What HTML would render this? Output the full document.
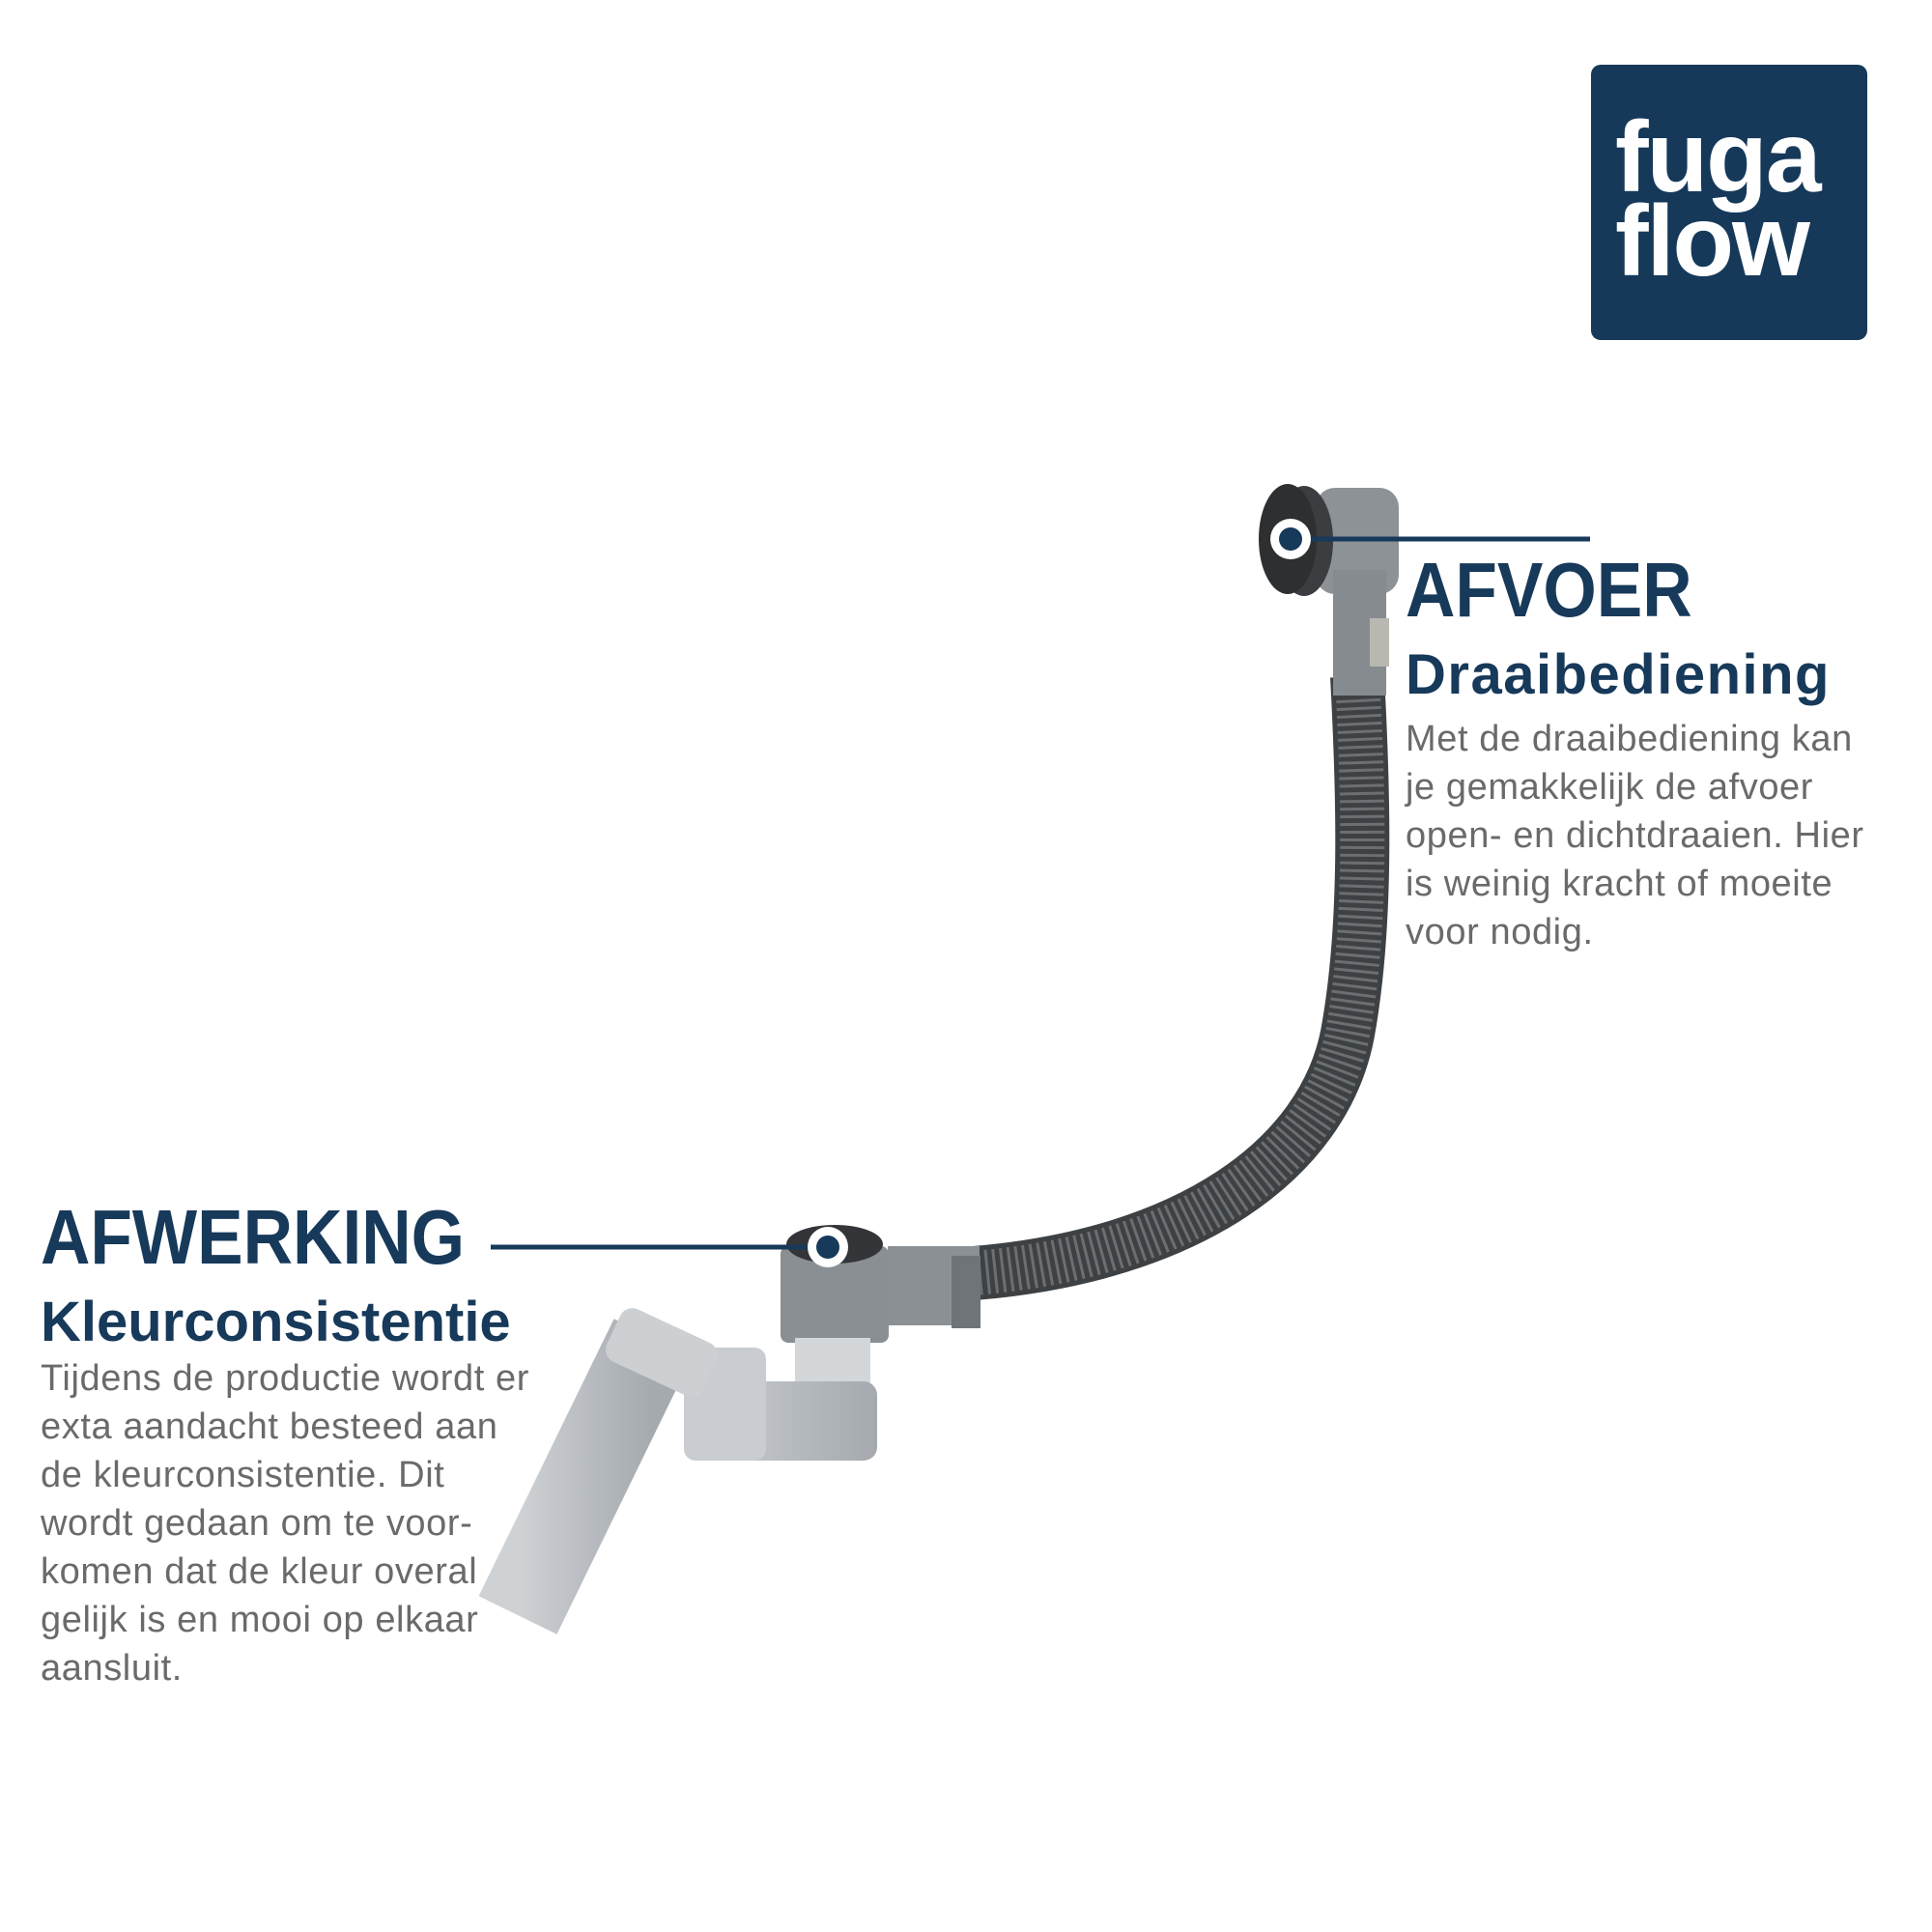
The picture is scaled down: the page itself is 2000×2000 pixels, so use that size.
<!DOCTYPE html>
<html><head><meta charset="utf-8"><style>
html,body{margin:0;padding:0;background:#fff}
body{width:2000px;height:2000px;position:relative;overflow:hidden;font-family:"Liberation Sans",sans-serif}
.t{position:absolute;white-space:nowrap}
.h1{font-weight:bold;font-size:80px;color:#17395a;transform:scaleX(0.89);transform-origin:0 0}
.h2{font-weight:bold;font-size:58px;color:#17395a}
.p{font-size:38px;color:#6a6a6a;line-height:50px;letter-spacing:0.6px}
</style></head><body>
<svg width="2000" height="2000" style="position:absolute;left:0;top:0">
  <defs>
    <linearGradient id="gp" x1="0" y1="0" x2="1" y2="0"><stop offset="0" stop-color="#cfd2d5"/><stop offset="0.5" stop-color="#b9bdc1"/><stop offset="1" stop-color="#a5aaae"/></linearGradient>
  </defs>
  <path d="M1405 700 C1412 830 1415 960 1395 1070 C1370 1200 1230 1300 1008 1318" fill="none" stroke="#3e4144" stroke-width="56"/>
  <path d="M1405 700 C1412 830 1415 960 1395 1070 C1370 1200 1230 1300 1008 1318" fill="none" stroke="#6b6f72" stroke-width="46" stroke-dasharray="3 5"/>
  <rect x="1362" y="505" width="86" height="110" rx="20" fill="#8d9296"/>
  <rect x="1380" y="590" width="55" height="130" fill="#868b8f"/>
  <rect x="1418" y="640" width="20" height="50" fill="#b8b8b0"/>
  <ellipse cx="1350" cy="560" rx="30" ry="57" fill="#3b3d40"/>
  <ellipse cx="1333" cy="558" rx="30" ry="57" fill="#2d2f31"/>
  <rect x="919" y="1290" width="95" height="82" fill="#8b9094"/>
  <rect x="985" y="1300" width="30" height="75" fill="#6f7478"/>
  <rect x="808" y="1290" width="112" height="100" rx="8" fill="#8a8f93"/>
  <ellipse cx="864" cy="1288" rx="50" ry="20" fill="#333538"/>
  <rect x="823" y="1385" width="78" height="60" fill="#d4d7da"/>
  <rect x="708" y="1430" width="200" height="82" rx="14" fill="url(#gp)"/>
  <rect x="708" y="1395" width="85" height="117" rx="12" fill="#c9ccd0"/>
  <path d="M676 1385 L536 1672" stroke="url(#gp)" stroke-width="90" stroke-linecap="butt"/>
  <rect x="630" y="1370" width="110" height="60" rx="14" fill="#cdd0d3" transform="rotate(25 685 1400)"/>
  <rect x="1647" y="67" width="286" height="285" rx="10" fill="#16395a"/>
  <text x="1672" y="198" font-family="Liberation Sans" font-weight="bold" font-size="104" fill="#fff" letter-spacing="-2">fuga</text>
  <text x="1672" y="285" font-family="Liberation Sans" font-weight="bold" font-size="104" fill="#fff" letter-spacing="-2">flow</text>
  <line x1="1336" y1="558" x2="1646" y2="558" stroke="#17395a" stroke-width="5"/>
  <circle cx="1336" cy="558" r="21" fill="#fff"/><circle cx="1336" cy="558" r="12" fill="#17395a"/>
  <line x1="508" y1="1291" x2="857" y2="1291" stroke="#17395a" stroke-width="5"/>
  <circle cx="857" cy="1291" r="21" fill="#fff"/><circle cx="857" cy="1291" r="12" fill="#17395a"/>
</svg>
<div class="t h1" style="left:1455px;top:565px">AFVOER</div>
<div class="t h2" style="left:1455px;top:665px;letter-spacing:1.5px">Draaibediening</div>
<div class="t p" style="left:1455px;top:740px">Met de draaibediening kan<br>je gemakkelijk de afvoer<br>open- en dichtdraaien. Hier<br>is weinig kracht of moeite<br>voor nodig.</div>
<div class="t h1" style="left:42px;top:1235px">AFWERKING</div>
<div class="t h2" style="left:42px;top:1335px">Kleurconsistentie</div>
<div class="t p" style="left:42px;top:1402px">Tijdens de productie wordt er<br>exta aandacht besteed aan<br>de kleurconsistentie. Dit<br>wordt gedaan om te voor-<br>komen dat de kleur overal<br>gelijk is en mooi op elkaar<br>aansluit.</div>
</body></html>
